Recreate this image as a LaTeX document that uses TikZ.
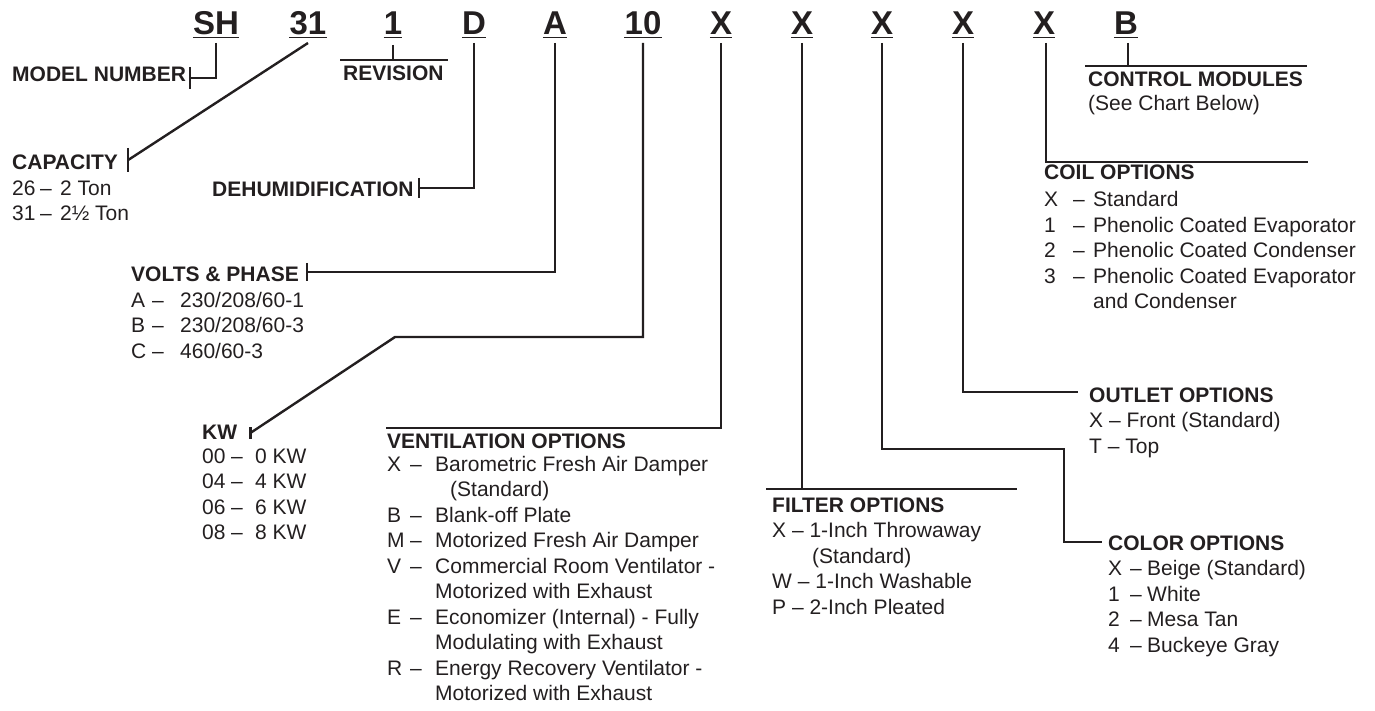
\documentclass[tikz,border=0pt]{standalone}
\usepackage{fontspec}
\usepackage{array}
\setmainfont{Liberation Sans}
\definecolor{ink}{RGB}{35,31,32}
\newcommand{\txtsize}{\fontsize{21}{25.5}\selectfont}
\tikzset{
  code/.style={font=\fontsize{33}{36}\selectfont\bfseries, anchor=base, inner sep=0pt, text=ink},
  lbl/.style={font=\txtsize, anchor=base west, inner sep=0pt, text=ink},
  conn/.style={draw=ink, line width=2.4pt},
}
\begin{document}
\begin{tikzpicture}[x=1pt, y=-1pt]
  \useasboundingbox (0,0) rectangle (1375,711);
  % model number digits
  \foreach \x/\t/\n in {216/SH/cSH, 308/31/cCap, 393/1/cRev, 474/D/cDeh,
      555/A/cVolt, 643/10/cKW, 721/X/cVent, 802/X/cFilt, 882/X/cColor,
      963/X/cOutlet, 1044/X/cCoil, 1126/B/cCtrl} {
    \node[code] (\n) at (\x, 35) {\t};
    \draw[draw=ink, line width=1.4pt] ([yshift=-2.5pt]\n.base west) -- ([yshift=-2.5pt]\n.base east);
  }

  % labels
  \node[lbl] (model) at (12, 82) {\bfseries MODEL NUMBER};
  \node[lbl] (rev) at (343, 81) {\bfseries REVISION};
  \node[lbl] (deh) at (212, 197) {\bfseries DEHUMIDIFICATION};

  \node[lbl] (capH) at (12, 170) {\bfseries CAPACITY};
  \node[lbl] (capL) at ([yshift=-25.5pt]capH.base west) {\begin{tabular}[t]{@{}w{l}{28pt}@{}w{l}{20pt}@{}l@{}}
    26 & -- & 2 Ton\\
    31 & -- & 2½ Ton
  \end{tabular}};

  \node[lbl] (voltH) at (131, 281) {\bfseries VOLTS \& PHASE};
  \node[lbl] (voltL) at ([yshift=-26pt]voltH.base west) {\begin{tabular}[t]{@{}w{l}{21pt}@{}w{l}{28pt}@{}l@{}}
    A & -- & 230/208/60-1\\
    B & -- & 230/208/60-3\\
    C & -- & 460/60-3
  \end{tabular}};

  \node[lbl] (kwH) at (202, 439) {\bfseries KW};
  \node[lbl] (kwL) at ([yshift=-24pt]kwH.base west) {\begin{tabular}[t]{@{}w{l}{29pt}@{}w{l}{24pt}@{}l@{}}
    00 & -- & 0 KW\\
    04 & -- & 4 KW\\
    06 & -- & 6 KW\\
    08 & -- & 8 KW
  \end{tabular}};

  \node[lbl] (ventH) at (387, 448) {\bfseries VENTILATION OPTIONS};
  \node[lbl] (ventL) at ([yshift=-23pt]ventH.base west) {\begin{tabular}[t]{@{}w{l}{23pt}@{}w{l}{25pt}@{}l@{}}
    X & -- & Barometric Fresh Air Damper\\
      &    & \hspace{15pt}(Standard)\\
    B & -- & Blank-off Plate\\
    M & -- & Motorized Fresh Air Damper\\
    V & -- & Commercial Room Ventilator -\\
      &    & Motorized with Exhaust\\
    E & -- & Economizer (Internal) - Fully\\
      &    & Modulating with Exhaust\\
    R & -- & Energy Recovery Ventilator -\\
      &    & Motorized with Exhaust
  \end{tabular}};

  \node[lbl] (filtH) at (772, 512) {\bfseries FILTER OPTIONS};
  \node[lbl] (filtL) at ([yshift=-25.5pt]filtH.base west) {\begin{tabular}[t]{@{}l@{}}
    X -- 1-Inch Throwaway\\
    \hspace{40pt}(Standard)\\
    W -- 1-Inch Washable\\
    P -- 2-Inch Pleated
  \end{tabular}};

  \node[lbl] (colorH) at (1108, 550) {\bfseries COLOR OPTIONS};
  \node[lbl] (colorL) at ([yshift=-25.5pt]colorH.base west) {\begin{tabular}[t]{@{}w{l}{22pt}@{}w{l}{17pt}@{}l@{}}
    X & -- & Beige (Standard)\\
    1 & -- & White\\
    2 & -- & Mesa Tan\\
    4 & -- & Buckeye Gray
  \end{tabular}};

  \node[lbl] (outH) at (1089, 402) {\bfseries OUTLET OPTIONS};
  \node[lbl] (outL) at ([yshift=-25.5pt]outH.base west) {\begin{tabular}[t]{@{}l@{}}
    X -- Front (Standard)\\
    T -- Top
  \end{tabular}};

  \node[lbl] (coilH) at (1044, 180) {\bfseries COIL OPTIONS};
  \node[lbl] (coilL) at ([yshift=-27pt]coilH.base west) {\begin{tabular}[t]{@{}w{l}{29pt}@{}w{l}{20pt}@{}l@{}}
    X & -- & Standard\\
    1 & -- & Phenolic Coated Evaporator\\
    2 & -- & Phenolic Coated Condenser\\
    3 & -- & Phenolic Coated Evaporator\\
      &    & and Condenser
  \end{tabular}};

  \node[lbl] (ctrlH) at (1088, 87) {\bfseries CONTROL MODULES};
  \node[lbl] (ctrlL) at ([yshift=-24pt]ctrlH.base west) {(See Chart Below)};

  % end points of the connectors
  \coordinate (tModel) at ([xshift=4pt, yshift=4pt]model.base east);
  \coordinate (tCap) at ([xshift=10pt, yshift=10pt]capH.base east);
  \coordinate (tDeh) at ([xshift=5pt, yshift=9pt]deh.base east);
  \coordinate (tVolt) at ([xshift=8pt, yshift=9pt]voltH.base east);
  \coordinate (tKW) at ([xshift=13pt, yshift=6pt]kwH.base east);
  \coordinate (kwBend) at (395, 337);
  \coordinate (revL) at (340, 60);
  \coordinate (revR) at (448, 60);
  \coordinate (filtL) at (766, 489);
  \coordinate (filtR) at (1017, 489);
  \coordinate (colorBend) at (1064, 449);
  \coordinate (coilR) at (1308, 162);
  \coordinate (ctrlL) at (1085, 66);
  \coordinate (ctrlR) at (1307, 66);

  % connectors
  \draw[conn] ([yshift=-8pt]cSH.base) |- (tModel);
  \draw[conn] ([yshift=-8pt]cCap.base) -- (tCap);
  \draw[conn] ([yshift=-10pt]cRev.base) -- (cRev |- revL);
  \draw[conn] (revL) -- (revR);
  \draw[conn] ([yshift=-8pt]cDeh.base) |- (tDeh);
  \draw[conn] ([yshift=-8pt]cVolt.base) |- (tVolt);
  \draw[conn] ([yshift=-8pt]cKW.base) |- (kwBend) -- (tKW);
  \draw[conn] ([yshift=-8pt]cVent.base) |- ([xshift=-1pt, yshift=20pt]ventH.base west);
  \draw[conn] ([yshift=-8pt]cFilt.base) -- (cFilt |- filtL);
  \draw[conn] (filtL) -- (filtR);
  \draw[conn] ([yshift=-8pt]cColor.base) |- (colorBend) |- ([xshift=-6pt, yshift=8pt]colorH.base west);
  \draw[conn] ([yshift=-8pt]cOutlet.base) |- ([xshift=-11pt, yshift=10pt]outH.base west);
  \draw[conn] ([xshift=2pt, yshift=-8pt]cCoil.base) |- (coilR);
  \draw[conn] ([xshift=2pt, yshift=-8pt]cCtrl.base) -- ([xshift=2pt]cCtrl.base |- ctrlL);
  \draw[conn] (ctrlL) -- (ctrlR);

  % ticks
  \draw[conn] (tModel) +(0,-11) -- +(0,11);
  \draw[conn] (tCap) +(0,-12) -- +(0,12);
  \draw[conn] (tDeh) +(0,-10) -- +(0,10);
  \draw[conn] (tVolt) +(0,-9) -- +(0,9);
  \draw[conn] (tKW) +(0,-6) -- +(0,6);
\end{tikzpicture}
\end{document}
